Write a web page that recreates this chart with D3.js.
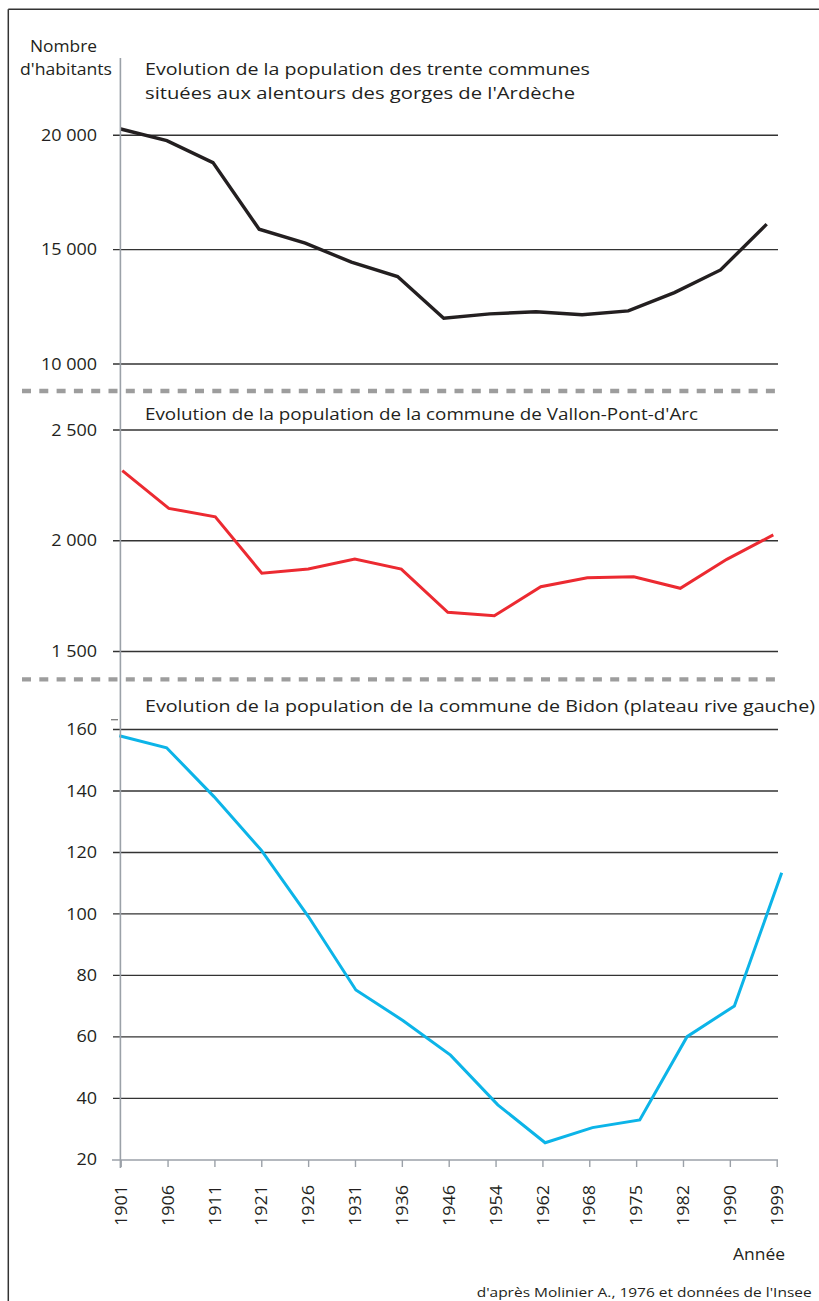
<!DOCTYPE html>
<html><head><meta charset="utf-8">
<script src="https://cdn.jsdelivr.net/npm/d3@7"></script>
<style>body{margin:0;background:#fff}svg{display:block}</style>
</head><body><svg id="c" width="819" height="1301"></svg>
<script>
// ---------- data ----------
const years = ["1901","1906","1911","1921","1926","1931","1936","1946","1954","1962","1968","1975","1982","1990","1999"];
const trenteCommunes = [20250,19740,18780,15870,15260,14430,13800,11980,12170,12260,12130,12300,13100,14090,16090];
const vallonPontDArc = [2314,2144,2106,1851,1870,1915,1870,1675,1659,1790,1831,1835,1783,1914,2024];
const bidon = [157.8,153.9,138,120.6,98.9,75.1,65.1,53.9,37.7,25.4,30.3,32.8,59.9,69.9,113.2];
const ticksTrente = [10000,15000,20000];
const ticksVallon = [1500,2000,2500];
const ticksBidon = [20,40,60,80,100,120,140,160];
const titleTrente = ["Evolution de la population des trente communes","situées aux alentours des gorges de l'Ardèche"];
const titleVallon = ["Evolution de la population de la commune de Vallon-Pont-d'Arc"];
const titleBidon = ["Evolution de la population de la commune de Bidon (plateau rive gauche)"];
const yAxisTitle = ["Nombre","d'habitants"];
const xAxisTitle = "Année";
const sourceText = "d'après Molinier A., 1976 et données de l'Insee";

// ---------- setup ----------
const svg = d3.select("#c");
const FONT = "'Open Sans', 'Noto Sans', sans-serif";
const TXT = "#231f20";
const fmt = v => d3.format(",")(v).replace(/,/g, "\u00a0");

// set size, then stretch glyphs to a target length (reference font is wider than Open Sans)
function stretchTo(sel, size, target){
  sel.style("font-size", size+"px");
  sel.attr("textLength", target).attr("lengthAdjust","spacingAndGlyphs");
}
function stretchBy(sel, size, k){
  sel.each(function(){
    const t = d3.select(this).style("font-size", size+"px");
    const w = this.getComputedTextLength();
    t.attr("textLength", (w*k).toFixed(2)).attr("lengthAdjust","spacingAndGlyphs");
  });
}

// frame
svg.append("line").attr("x1",8.3).attr("x2",819).attr("y1",9.3).attr("y2",9.3).attr("stroke","#333").attr("stroke-width",1.5);
svg.append("line").attr("x1",8.3).attr("x2",8.3).attr("y1",9.3).attr("y2",1301).attr("stroke","#333").attr("stroke-width",1.5);

const gridX0 = 113, gridX1 = 778;
const TICK_SIZE = 15.5, STRETCH = 1.16;

const panels = [
  {values: trenteCommunes, ticks: ticksTrente, domain:[10000,20000], range:[363.5,134.7], xr:[120.7,766.7], color:"#231f20", width:3.4,
   titles: titleTrente, titleTargets:[445,430], titleY:[75,99]},
  {values: vallonPontDArc, ticks: ticksVallon, domain:[1500,2500], range:[651,429.5], xr:[122.3,773.3], color:"#ec2a31", width:3,
   titles: titleVallon, titleTargets:[553], titleY:[420]},
  {values: bidon, ticks: ticksBidon, domain:[20,160], range:[1159.3,729], xr:[119.3,781.7], color:"#0cb4e8", width:3,
   titles: titleBidon, titleTargets:[670], titleY:[711.5]}
];

panels.forEach((p, pi) => {
  const y = d3.scaleLinear().domain(p.domain).range(p.range);
  const x = d3.scalePoint().domain(years).range(p.xr);
  const ax = svg.append("g").attr("transform",`translate(${gridX0},0)`)
    .call(d3.axisLeft(y).tickValues(p.ticks).tickSize(-(gridX1-gridX0)).tickPadding(16).tickFormat(fmt));
  ax.select(".domain").remove();
  ax.selectAll(".tick line").attr("stroke","#333").attr("stroke-width",1.4);
  const tt = ax.selectAll(".tick text").attr("fill",TXT).style("font-family",FONT).attr("dy","0.36em");
  stretchBy(tt, TICK_SIZE, STRETCH);
  if (pi === 2) ax.selectAll(".tick").filter(d => d === 20).select("line").remove();
  // titles
  p.titles.forEach((t,i) => {
    const tx = svg.append("text").attr("x",145).attr("y",p.titleY[i]).attr("fill",TXT).style("font-family",FONT).text(t);
    stretchTo(tx, 16.8, p.titleTargets[i]);
  });
  // line
  svg.append("path").datum(p.values)
    .attr("fill","none").attr("stroke",p.color).attr("stroke-width",p.width).attr("stroke-linejoin","miter")
    .attr("d", d3.line().x((d,i)=>x(years[i])).y(d=>y(d)));
  if (pi === 2) {
    svg.append("line").attr("x1",111).attr("x2",118).attr("y1",y(163)).attr("y2",y(163)).attr("stroke","#555").attr("stroke-width",1);
  }
});

// dashed separators
[391, 679.3].forEach(yy => {
  svg.append("line").attr("x1",22).attr("x2",778).attr("y1",yy).attr("y2",yy)
    .attr("stroke","#9d9d9d").attr("stroke-width",4.3).attr("stroke-dasharray","9,8.3");
});

// vertical y axis line
svg.append("line").attr("x1",120.4).attr("x2",120.4).attr("y1",58).attr("y2",1168).attr("stroke","#9ba1a8").attr("stroke-width",1.6);

// x axis
const xT = d3.scalePoint().domain(years).range([120.7,776.7]);
const xa = svg.append("g").attr("transform","translate(0,1160)")
  .call(d3.axisBottom(xT).tickSize(7).tickSizeOuter(0));
xa.select(".domain").remove();
svg.append("line").attr("x1",112).attr("x2",778).attr("y1",1160).attr("y2",1160).attr("stroke","#9ba1a8").attr("stroke-width",1.6);
xa.selectAll(".tick line").attr("stroke","#9ba1a8").attr("stroke-width",1.4);
const xl = xa.selectAll(".tick text").attr("fill",TXT).style("font-family",FONT)
  .attr("transform","rotate(-90)").attr("text-anchor","end").attr("x",-25).attr("y",0).attr("dy","0.36em");
stretchBy(xl, TICK_SIZE, STRETCH);

// axis titles
const yt1 = svg.append("text").attr("x",63.5).attr("y",51.5).attr("text-anchor","middle").attr("fill",TXT).style("font-family",FONT).text(yAxisTitle[0]);
stretchTo(yt1, 15.5, 67);
const yt2 = svg.append("text").attr("x",66).attr("y",75).attr("text-anchor","middle").attr("fill",TXT).style("font-family",FONT).text(yAxisTitle[1]);
stretchTo(yt2, 15.5, 92);
const xt = svg.append("text").attr("x",785).attr("y",1260).attr("text-anchor","end").attr("fill",TXT).style("font-family",FONT).text(xAxisTitle);
stretchTo(xt, 15.5, 52);
const src = svg.append("text").attr("x",811.7).attr("y",1296.5).attr("text-anchor","end").attr("fill",TXT).style("font-family",FONT).text(sourceText);
stretchTo(src, 13.5, 335);
</script>
</body></html>
